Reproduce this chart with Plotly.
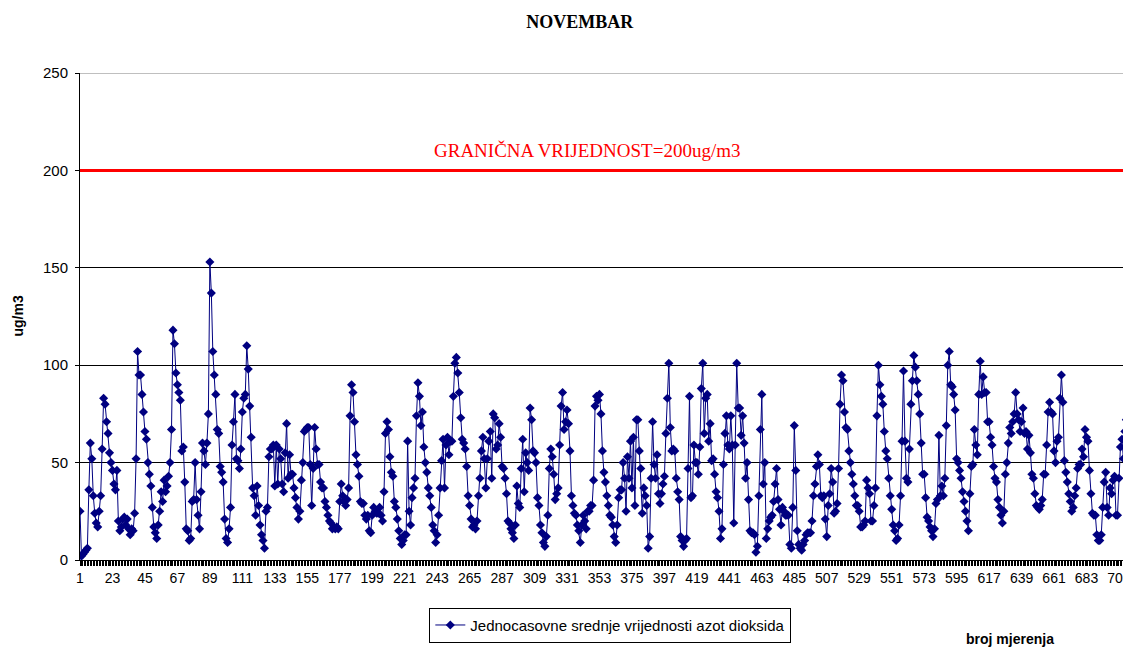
import plotly.graph_objects as go

# satne vrijednosti NO2 (ug/m3), procitane sa grafika
no2 = [
    25, 2, 3, 4, 5, 6, 36, 60, 52, 33,
    24, 19, 17, 25, 33, 57, 83, 80, 71, 65,
    55, 50, 46, 39, 36, 46, 20, 15, 17, 21,
    22, 18, 21, 16, 13, 16, 15, 24, 52, 107,
    95, 95, 85, 76, 66, 62, 50, 44, 38, 27,
    17, 14, 11, 18, 25, 35, 30, 41, 35, 38,
    43, 50, 67, 118, 111, 96, 90, 86, 82, 56,
    58, 40, 16, 15, 10, 11, 30, 31, 50, 31,
    23, 16, 35, 60, 56, 49, 60, 75, 153,
    137, 107, 95, 85, 67, 65, 48, 45, 40, 21,
    11, 9, 16, 27, 59, 71, 85, 52, 51, 47,
    57, 76, 83, 85, 110, 98, 79, 63, 37, 33,
    23, 38, 28, 18, 13, 10, 6, 25, 27, 53,
    57, 57, 59, 38, 59, 39, 57, 52, 39, 35,
    55, 70, 42, 54, 44, 44, 37, 32, 27, 21,
    25, 41, 50, 66, 67, 68, 68, 49, 28, 47,
    68, 57, 49, 49, 40, 37, 37, 30, 27, 23,
    20, 19, 16, 17, 16, 17, 16,
    30, 39, 33, 30, 28, 31, 37, 74, 90, 86,
    71, 54, 49, 43, 30, 29, 29, 23, 21, 23,
    15, 14, 23, 27, 25, 24, 24, 27, 23, 20,
    35, 65, 71, 67, 53, 45, 43, 30, 27, 21,
    15, 11, 8, 10, 13, 13, 61, 25, 18, 32,
    37, 42, 74, 91, 84, 69, 76, 58, 50, 45,
    37, 33, 27, 18, 15, 9, 13, 23, 37, 51,
    62, 37, 59, 63, 54, 61, 61, 84, 101, 104,
    96, 86, 73, 62, 60,
    57, 48, 33, 28, 21, 17, 18, 16, 20, 33,
    42, 56, 63, 52, 37, 52, 61, 66, 42, 75,
    73, 57, 59, 70, 63, 48, 47, 42, 34, 20,
    19, 16, 14, 11, 18, 38, 29, 27, 47, 62,
    35, 55, 50, 46, 78, 72, 56, 55, 50, 32,
    28, 18, 14, 9, 7, 12, 23, 47, 57, 53,
    44, 31, 34, 37, 59, 79, 86, 67, 71, 77,
    70, 56, 33, 28, 24, 23, 18, 15, 9, 18,
    23, 20, 16, 25, 25, 28, 28, 41, 79, 84, 82,
    85, 75, 56, 45, 40, 33, 28, 23, 22, 18,
    12, 9, 18, 32, 36, 36, 50, 42, 25, 53,
    42, 61, 37, 63, 28, 72, 72, 56, 47, 24,
    37, 33, 28, 6, 12, 42, 71, 49, 42, 54,
    34, 29, 34, 39, 43, 65, 83, 101, 68, 56,
    57, 56, 42, 35, 31, 12, 10, 7, 10, 11,
    47, 84, 32, 33, 59, 50, 50, 44, 58, 88,
    101, 65, 83, 85, 61, 70, 51, 52, 44, 35,
    32, 25, 11, 16, 49, 65, 74,
    59, 57, 74, 59, 19, 59, 101, 78, 78, 64,
    74, 60, 42, 50, 31, 15, 14, 14, 13, 4,
    7, 33, 67, 85, 39, 50, 11, 16, 20, 22,
    23, 30, 39, 47, 31, 26, 18, 27, 25, 23,
    23, 23, 8, 6, 27, 69, 46, 15, 8, 6,
    5, 8, 10, 13, 14, 14, 14, 20, 33, 39,
    48, 54, 49, 33, 32, 33, 21, 12, 28, 34,
    47, 40, 24, 25, 29, 47, 80, 95, 92, 76,
    68, 67, 56, 50, 44, 39, 33, 28,
    28, 25, 17, 17, 18, 20, 41, 37, 34, 20,
    20, 28, 37, 74, 100, 90, 84, 80, 66, 56,
    52, 42, 33, 26, 18, 15, 10, 11, 18, 33,
    61, 97, 61, 42, 40, 57, 80, 92, 105, 99,
    92, 85, 75, 60, 44, 44, 32, 22, 20, 17,
    15, 12, 16, 29, 31, 64, 33, 38, 33, 42,
    69, 100, 107, 90, 89, 85, 77, 52, 50, 46,
    42, 35, 30, 25, 20, 15, 34, 48, 49, 67,
    59, 54, 85, 102, 85, 94, 86,
    86, 71, 71, 63, 59, 48, 42, 40, 31, 27,
    23, 19, 25, 44, 50, 60, 68, 65, 71, 75,
    86, 75, 72, 66, 71, 78, 65, 66, 57, 64,
    55, 44, 42, 34, 28, 27, 26, 28, 31, 44,
    44, 59, 76, 81, 76, 75, 56, 50, 61, 63,
    83, 95, 81, 51, 45, 40, 34, 30, 25, 27,
    33, 37, 47, 49, 49, 57, 53, 67, 63, 61,
    46, 34, 24, 23, 23, 13, 10, 10, 13, 27,
    40, 45, 27, 23, 37, 34, 41, 43, 23, 23,
    42, 58, 62, 52, 66, 72,
]
mjerenje = list(range(1, len(no2) + 1))
x_ticks = [1, 23, 45, 67, 89, 111, 133, 155, 177, 199, 221, 243, 265, 287, 309,
           331, 353, 375, 397, 419, 441, 463, 485, 507, 529, 551, 573, 595, 617,
           639, 661, 683, 705]
y_ticks = [0, 50, 100, 150, 200, 250]
granicna = 200

fig = go.Figure()
fig.add_trace(go.Scatter(
    x=mjerenje, y=no2, mode="lines+markers",
    name="Jednocasovne srednje vrijednosti azot dioksida",
    line=dict(color="#000080", width=1),
    marker=dict(symbol="diamond", size=7, color="#000080"),
))

# granicna vrijednost
fig.add_shape(type="line", xref="paper", x0=0, x1=1, y0=granicna, y1=granicna,
              line=dict(color="#ff0000", width=3), layer="above")
fig.add_shape(type="line", xref="paper", x0=0, x1=1, y0=250, y1=250,
              line=dict(color="#808080", width=1))
fig.add_annotation(text="GRANIČNA VRIJEDNOST=200ug/m3", xref="paper", x=0.483,
                   xanchor="center", y=granicna + 4, yanchor="bottom", showarrow=False,
                   font=dict(family="Liberation Serif", size=19, color="#ff0000"))

fig.add_annotation(text="<b>ug/m3</b>", xref="paper", yref="paper", x=-0.06,
                   xanchor="center", y=0.5, yanchor="middle",
                   textangle=-90, showarrow=False,
                   font=dict(family="Liberation Sans", size=14, color="black"))
fig.add_annotation(text="<b>broj mjerenja</b>", xref="paper", yref="paper", x=0.887,
                   xanchor="center", y=-0.162, yanchor="middle", showarrow=False,
                   font=dict(family="Liberation Sans", size=14, color="black"))

# stranica ima 8px margine, pa je slika pomjerena ulijevo/gore
fig.update_layout(
    width=1131, height=643,
    margin=dict(l=72, r=8, t=65, b=89),
    paper_bgcolor="white", plot_bgcolor="white",
    title=dict(text="<b>NOVEMBAR</b>", x=0.5055, xanchor="center", y=0.978,
               yanchor="middle",
               font=dict(family="Liberation Serif", size=18, color="black")),
    font=dict(family="Liberation Sans", size=14, color="black"),
    showlegend=True,
    legend=dict(x=0.333, y=-0.098, xanchor="left", yanchor="top",
                bordercolor="black", borderwidth=1, bgcolor="white",
                font=dict(family="Liberation Sans", size=15)),
    xaxis=dict(range=[1, 711.8], tickmode="array", tickvals=x_ticks,
               showgrid=False, zeroline=False, showline=True, linecolor="black",
               linewidth=1, ticks="outside", ticklen=5, tickcolor="black",
               tickfont=dict(size=14), ticklabeloverflow="allow",
               minor=dict(dtick=1, tick0=1, ticks="outside", ticklen=5,
                          tickcolor="black", showgrid=False)),
    yaxis=dict(range=[0, 250], tickvals=y_ticks, showgrid=True,
               gridcolor="black", gridwidth=1, zeroline=False, showline=True,
               linecolor="black", linewidth=1, ticks="outside", ticklen=4,
               tickcolor="black", tickfont=dict(size=15), ticklabelstandoff=4),
)

fig.write_html("out.html")
